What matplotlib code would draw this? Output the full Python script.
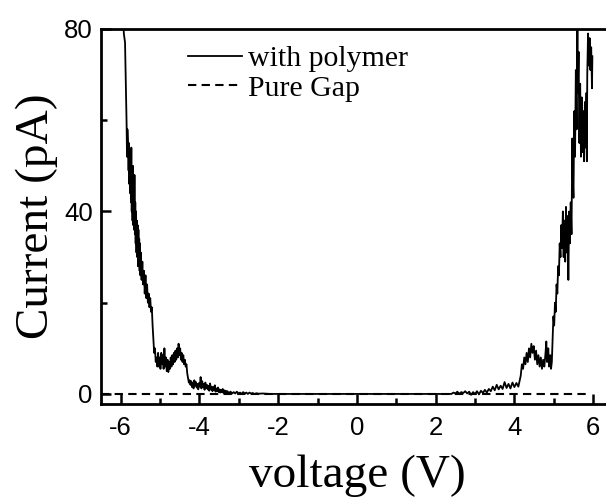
import matplotlib
matplotlib.use("Agg")
import matplotlib.pyplot as plt
from matplotlib.ticker import MultipleLocator

plt.rcParams["axes.unicode_minus"] = False
plt.rcParams["lines.scale_dashes"] = False

# I-V curve with polymer (noise included)
left_v = [-5.94, -5.92, -5.89, -5.87, -5.85, -5.84, -5.83, -5.82, -5.81, -5.80,
          -5.79, -5.78, -5.77, -5.76, -5.75, -5.74, -5.73, -5.72, -5.71, -5.70,
          -5.69, -5.68, -5.67, -5.66, -5.65, -5.64, -5.63, -5.62, -5.61, -5.60,
          -5.59, -5.58, -5.57, -5.56, -5.55, -5.54, -5.53, -5.52, -5.51, -5.50,
          -5.49, -5.47, -5.45, -5.43, -5.41, -5.39, -5.37, -5.35, -5.33, -5.31,
          -5.29, -5.27, -5.25, -5.23, -5.21, -5.19, -5.17, -5.15, -5.13, -5.11,
          -5.09, -5.07, -5.05, -5.03, -5.01, -4.99, -4.97, -4.95, -4.93, -4.91,
          -4.89, -4.87, -4.85, -4.83, -4.81, -4.79, -4.77, -4.75, -4.73, -4.71,
          -4.69, -4.67, -4.65, -4.63, -4.61, -4.59, -4.57, -4.55, -4.53, -4.51,
          -4.49, -4.47, -4.45, -4.43, -4.41, -4.39, -4.37, -4.35, -4.33, -4.31,
          -4.29, -4.27, -4.25, -4.23, -4.21, -4.19, -4.17, -4.15, -4.13, -4.11,
          -4.09, -4.07, -4.05, -4.03, -4.01, -3.99, -3.97, -3.95, -3.93, -3.91,
          -3.89, -3.87, -3.85, -3.83, -3.81, -3.79, -3.77, -3.75, -3.73, -3.71,
          -3.69, -3.67, -3.65, -3.63, -3.61, -3.59, -3.57, -3.55, -3.53, -3.51,
          -3.49, -3.47, -3.45, -3.43, -3.41, -3.39, -3.37, -3.35, -3.33, -3.31,
          -3.29, -3.25, -3.21, -3.17, -3.13, -3.09, -3.05, -3.01, -2.97, -2.93,
          -2.89, -2.85, -2.81, -2.77, -2.73, -2.69, -2.65, -2.60, -2.55, -2.50,
          -2.40, -2.20]
left_i = [82, 79, 77, 68, 59, 52, 58, 56, 54, 49,
          55, 46, 53, 44, 50, 42, 54, 40, 47, 38,
          50, 37, 45, 36, 48, 35, 42, 33, 40, 31,
          38, 30, 37, 28, 36, 29, 34, 27, 33, 26,
          31, 25, 29, 24, 27, 22, 26, 21, 24, 20,
          22, 19, 21, 18, 19, 15, 12, 9, 10, 7,
          8, 6, 9, 6, 8, 5.5, 9, 6.5, 8.5, 5.5,
          10, 6, 8, 5, 7.5, 4.8, 7, 5.5, 8, 6,
          8.5, 6.5, 9, 7, 9.5, 7.5, 10, 8, 11, 8.5,
          10, 7.5, 9, 7, 8.5, 6.5, 7.5, 6, 6.5, 4.5,
          3.5, 2.5, 3, 2, 2.8, 1.5, 2.5, 1.2, 3, 1.8,
          2.6, 1.4, 2.2, 1.0, 2.4, 1.6, 3.7, 1.2, 2.8, 1.5,
          2.2, 0.9, 2.5, 1.3, 2.0, 1.0, 1.8, 0.7, 2.3, 1.0,
          1.6, 0.6, 1.5, 0.8, 1.9, 0.5, 1.2, 0.6, 1.4, 0.4,
          1.0, 0.3, 0.9, 0.4, 1.1, 0.2, 0.8, 0.3, 0.7, 0.2,
          0.6, 0.2, 0.5, 0.1, 0.4, 0.1, 0.5, 0.1, 0.3, 0.0,
          0.4, 0.1, 0.3, 0.0, 0.3, 0.1, 0.2, 0.0, 0.15, 0.05,
          0.1, 0.0]

mid_v = [-2.0, 0.0, 2.0, 2.40]
mid_i = [0.0, 0.0, 0.0, 0.0]

right_v = [2.45, 2.50, 2.55, 2.60, 2.65, 2.70, 2.75, 2.80, 2.85, 2.90,
           2.95, 3.00, 3.05, 3.10, 3.15, 3.20, 3.25, 3.30, 3.35, 3.40,
           3.45, 3.50, 3.55, 3.60, 3.65, 3.70, 3.75, 3.80, 3.85, 3.90,
           3.95, 4.00, 4.05, 4.10, 4.13, 4.16, 4.19, 4.22, 4.25, 4.28,
           4.31, 4.34, 4.37, 4.40, 4.43, 4.46, 4.49, 4.52, 4.55, 4.58,
           4.61, 4.64, 4.67, 4.70, 4.73, 4.76, 4.79, 4.81, 4.83, 4.86,
           4.88, 4.91, 4.93, 4.95, 4.97, 4.99, 5.01, 5.03, 5.05, 5.07,
           5.09, 5.11, 5.13, 5.15, 5.17, 5.19, 5.21, 5.23, 5.25, 5.27,
           5.29, 5.31, 5.33, 5.35, 5.37, 5.39, 5.41, 5.43, 5.45, 5.47,
           5.48, 5.50, 5.52, 5.54, 5.56, 5.58, 5.60, 5.61, 5.63, 5.65,
           5.67, 5.69, 5.71, 5.73, 5.75, 5.77, 5.79, 5.81, 5.83, 5.84,
           5.85, 5.87, 5.89, 5.91, 5.93, 5.95, 5.97, 5.98]
right_i = [0.3, 0.1, 0.5, 0.0, 0.4, 0.2, 0.6, 0.1, 0.5, -0.2,
           0.4, 0.0, 0.6, -0.1, 0.7, 0.2, 0.9, 0.3, 1.1, 0.6,
           1.6, 0.8, 2.0, 1.0, 1.8, 1.1, 2.6, 1.3, 2.2, 1.2,
           2.5, 1.5, 2.4, 1.6, 2.8, 4.0, 6.5, 5.5, 8, 6.5,
           9, 7, 10, 8, 11, 9, 10.5, 7.5, 9.5, 6.5,
           8.5, 6, 8, 5.5, 7.5, 6, 9, 11.5, 7, 10,
           6, 8.5, 5.5, 7, 12, 17, 15, 20, 18, 24,
           22, 28, 26, 33, 30, 37, 32, 40, 30, 38,
           29, 41, 31, 39, 25, 40, 33, 42, 35, 56,
           48, 43, 62, 52, 71, 58, 81, 66, 75, 55,
           68, 52, 65, 53, 62, 51, 64, 54, 66, 51,
           70, 79, 72, 78, 71, 76, 67, 74]

# Pure gap reference
gap_v = [-6.5, 5.85]
gap_i = [0.0, 0.0]

voltage = left_v + mid_v + right_v
current = left_i + mid_i + right_i

fig = plt.figure(figsize=(6.06, 4.98), dpi=100)
ax = fig.add_axes([0.1667, 0.1888, 1.0113 - 0.1667, 0.9418 - 0.1888])

ax.plot(voltage, current, color="black", lw=1.3, label="with polymer")
ax.plot(gap_v, gap_i, color="black", lw=1.5, linestyle=(0, (6, 3.8)),
        label="Pure Gap")

ax.set_xlim(-6.5, 6.5)
ax.set_ylim(-2.2, 80)
ax.xaxis.set_major_locator(MultipleLocator(2))
ax.xaxis.set_minor_locator(MultipleLocator(1))
ax.yaxis.set_major_locator(MultipleLocator(40))
ax.yaxis.set_minor_locator(MultipleLocator(20))

for s in ax.spines.values():
    s.set_linewidth(2)
ax.tick_params(which="both", direction="in", top=False, right=False,
               width=1.8, labelsize=18.5)
ax.tick_params(which="major", length=7)
ax.tick_params(which="minor", length=4.5)
ax.tick_params(axis="x", pad=9)
ax.tick_params(axis="y", pad=6)
for lab in ax.get_xticklabels() + ax.get_yticklabels():
    lab.set_family("Liberation Sans")

ax.set_xlabel("voltage (V)", family="Liberation Serif", fontsize=34,
              labelpad=10)
ax.set_ylabel("Current (pA)", family="Liberation Serif", fontsize=34,
              labelpad=4)

ax.legend(loc="upper left", bbox_to_anchor=(0.17, 0.957), frameon=False,
          borderpad=0, borderaxespad=0, handlelength=1.8, handletextpad=0.2,
          labelspacing=0.1, prop={"family": "Liberation Serif", "size": 21.5})

fig.savefig("out.png", dpi=100)
